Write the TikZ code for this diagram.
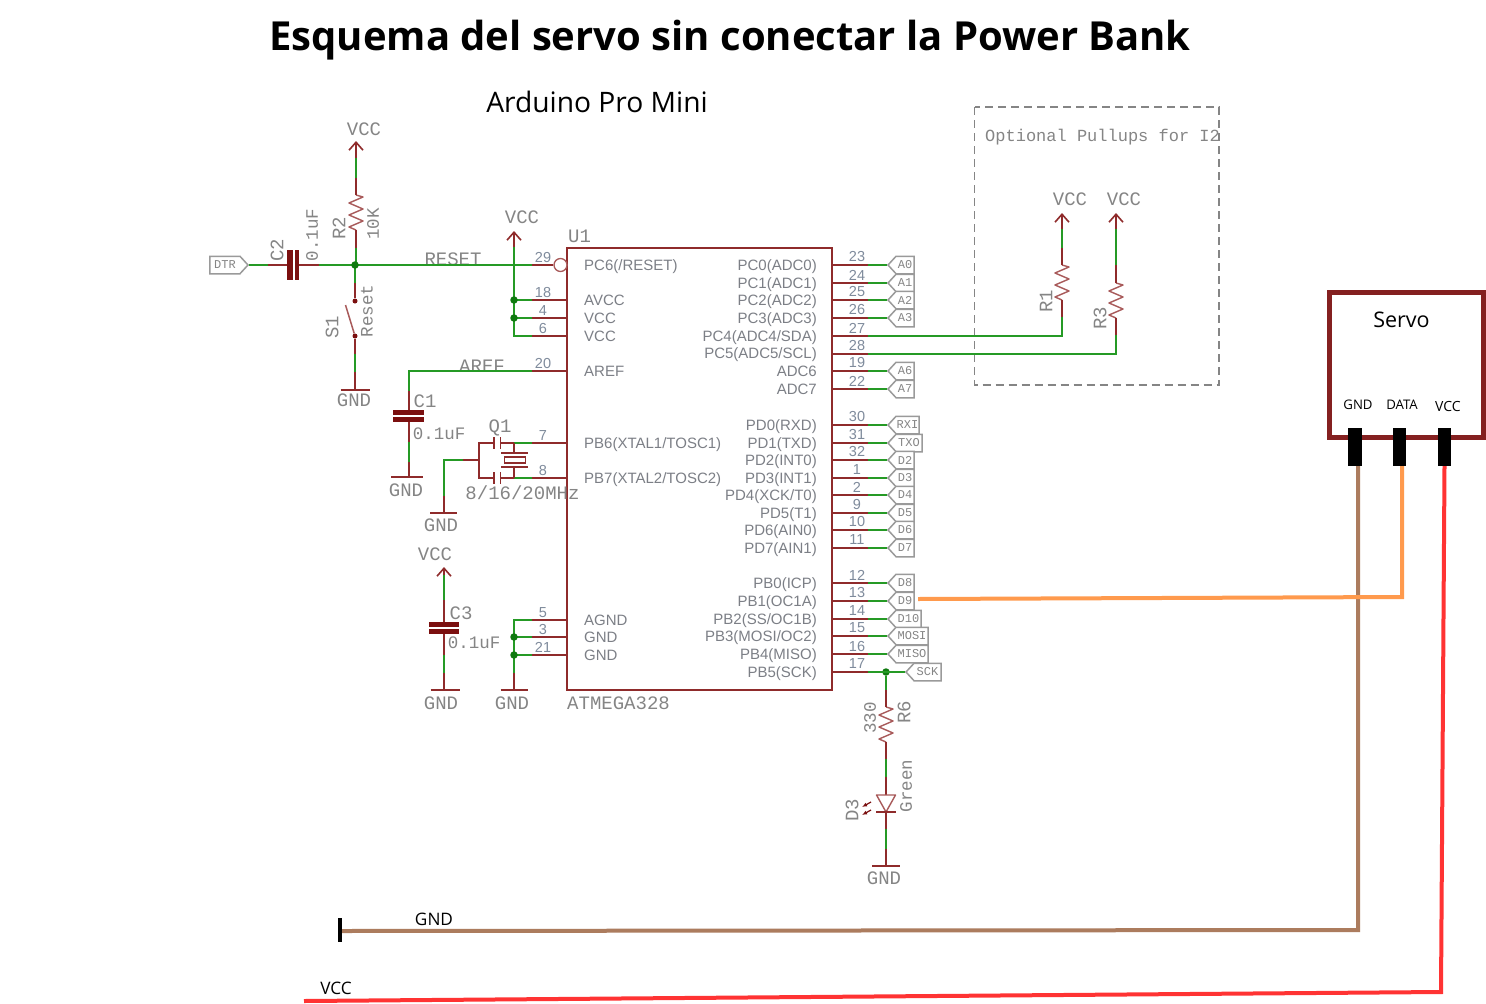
\documentclass[tikz,border=0pt]{standalone}
\usepackage{fontspec}
\usetikzlibrary{arrows.meta,shapes.symbols}
\setmainfont{Open Sans}
\newfontfamily\schemfont{Liberation Mono}
\newfontfamily\pinfont{Liberation Sans}
\definecolor{rd}{HTML}{8F2B2B}
\definecolor{gr}{HTML}{259A25}
\definecolor{junc}{HTML}{0F7A0F}
\definecolor{lab}{HTML}{858585}
\definecolor{pinlab}{HTML}{7C7F86}
\definecolor{pinnum}{HTML}{7F8B9C}
\definecolor{tagc}{HTML}{9A9A9A}
\definecolor{resc}{HTML}{A85A5A}
\definecolor{capc}{HTML}{7B0F0F}
\definecolor{servoc}{HTML}{842020}
\definecolor{brownw}{HTML}{AC7C5E}
\definecolor{orangew}{HTML}{FF9A4D}
\definecolor{redw}{HTML}{FF3333}
\tikzset{
  x=1pt,y=-1pt,
  rw/.style={rd,line width=2pt,line cap=butt},
  gw/.style={gr,line width=2pt,line cap=butt},
  resline/.style={resc,line width=1.4pt,line join=round},
  sl/.style={lab,inner sep=0pt,font=\schemfont\fontsize{19}{19}\selectfont},
  sm/.style={lab,inner sep=0pt,font=\schemfont\fontsize{17.5}{18}\selectfont},
  pinname/.style={pinlab,inner sep=0pt,font=\pinfont\fontsize{15}{15}\selectfont},
  pinno/.style={pinnum,inner sep=0pt,font=\pinfont\fontsize{14.5}{14}\selectfont},
  tagbox/.style={draw=tagc,line width=1.5pt,fill=white,shape=signal,signal to=west,signal from=nowhere,signal pointer angle=95,
    minimum height=17.5pt,inner sep=0pt,text=lab,anchor=west,font=\schemfont\fontsize{12}{12}\selectfont},
  dot/.style={circle,fill=junc,inner sep=0pt,minimum size=7.5pt},
  gndbar/.style={rd,line width=2pt},
  capplate/.style={fill=capc,draw=none,inner sep=0pt},
  barb/.style={-{Straight Barb[width=14pt,length=8pt,line width=1.6pt]}},
  servowire/.style={line width=4pt,line join=miter},
  plug/.style={fill=black,draw=none,inner sep=0pt,minimum width=13.5pt,minimum height=38pt},
}
\newcommand{\resistorat}[2]{%
  \path (#2) coordinate (#1t) ++(0,35) coordinate (#1b);
  \draw[resline] (#1t) -- ++(7,2) -- ++(-14,6) -- ++(14,6) -- ++(-14,6) -- ++(14,6) -- ++(-14,6) -- (#1b);
}
\begin{document}
\begin{tikzpicture}
\path[use as bounding box] (0,0) rectangle (1486,1004);
\fill[white] (0,0) rectangle (1486,1004);

% titles
\node[inner sep=0pt,font=\bfseries\fontsize{40}{40}\selectfont] (title) at (730,40) {Esquema del servo sin conectar la Power Bank};
\node[inner sep=0pt,font=\fontsize{28.2}{28}\selectfont] (ardu) at (597,102) {Arduino Pro Mini};

% microcontroller
\node[draw=rd,line width=2pt,minimum width=265pt,minimum height=442pt,inner sep=0pt] (U1) at (699.5,469) {};
\node[sl,anchor=west] (U1lab) at (568,236) {U1};
\node[sl,anchor=west] (U1val) at (567,703) {ATMEGA328};

% text labels that lie under the wires
\node[sl] (resetlab) at (453,259) {RESET};
\node[sl] (areflab) at (482,366) {AREF};

% right-hand pins with tags
\foreach \y/\n/\lab/\tg/\w in {
  265/23/{PC0(ADC0)}/A0/26, 283/24/{PC1(ADC1)}/A1/26, 300/25/{PC2(ADC2)}/A2/26, 318/26/{PC3(ADC3)}/A3/26,
  371/19/{ADC6}/A6/26, 389/22/{ADC7}/A7/26,
  425/30/{PD0(RXD)}/RXI/31, 443/31/{PD1(TXD)}/TXO/34, 460/32/{PD2(INT0)}/D2/26, 478/1/{PD3(INT1)}/D3/26,
  495/2/{PD4(XCK/T0)}/D4/26, 513/9/{PD5(T1)}/D5/26, 530/10/{PD6(AIN0)}/D6/26, 548/11/{PD7(AIN1)}/D7/26,
  583/12/{PB0(ICP)}/D8/26, 601/13/{PB1(OC1A)}/D9/26, 619/14/{PB2(SS/OC1B)}/D10/33, 636/15/{PB3(MOSI/OC2)}/MOSI/40,
  654/16/{PB4(MISO)}/MISO/40} {
  \node[pinname,anchor=base east] (nm\n) at (817,\y+5) {\lab};
  \node[pinno] (no\n) at (857,\y-8) {\n};
  \coordinate (pin\n) at (832,\y);
  \node[tagbox,minimum width=\w pt] (tag\n) at (887,\y) {\tg};
  \draw[rw] (pin\n) -- ++(36,0);
  \draw[gw] (pin\n) ++(36,0) -- (tag\n.west);
}
% right pins that go on elsewhere
\foreach \y/\n/\lab/\ly in {336/27/{PC4(ADC4/SDA)}/341,354/28/{PC5(ADC5/SCL)}/358,672/17/{PB5(SCK)}/677} {
  \node[pinname,anchor=base east] (nm\n) at (817,\ly) {\lab};
  \node[pinno] (no\n) at (857,\y-8) {\n};
  \coordinate (pin\n) at (832,\y);
  \draw[rw] (pin\n) -- ++(36,0);
}

% left-hand pins
\foreach \y/\n/\lab in {265/29/{PC6(/RESET)},300/18/{AVCC},318/4/{VCC},336/6/{VCC},371/20/{AREF},
  443/7/{PB6(XTAL1/TOSC1)},478/8/{PB7(XTAL2/TOSC2)},620/5/{AGND},637/3/{GND},655/21/{GND}} {
  \node[pinname,anchor=base west] (nm\n) at (584,\y+5) {\lab};
  \node[pinno] (no\n) at (543,\y-7.5) {\n};
  \coordinate (pin\n) at (567,\y);
}
\foreach \n in {18,4,6,20,7,8,5,3,21} { \draw[rw] (pin\n) -- ++(-35,0); }

% pin 29 with inverted input
\node[circle,draw=resc,line width=1.3pt,fill=white,minimum size=13pt,inner sep=0pt] (inv) at (560.5,265) {};
\draw[rw] (inv.west) -- (532,265);

% ---- DTR, C2, reset net
\node[draw=tagc,line width=1.5pt,shape=signal,signal to=east,signal from=nowhere,signal pointer angle=95,minimum height=17.5pt,minimum width=38pt,inner sep=0pt,text=lab,anchor=east,font=\schemfont\fontsize{12}{12}\selectfont] (DTR) at (249,265) {DTR};
\node[capplate,minimum width=6pt,minimum height=30pt] (C2a) at (290,265) {};
\node[capplate,minimum width=4.5pt,minimum height=30pt] (C2b) at (297,265) {};
\coordinate (RN) at (355,265);
\draw[gw] (DTR.east) -- (268,265);
\draw[rw] (268,265) -- (C2a.west);
\draw[rw] (C2b.east) -- (319,265);
\draw[gw] (319,265) -- (RN);
\draw[gw] (RN) -- (532,265);
\node[sl,rotate=90] (C2lab) at (277,250) {C2};
\node[sm,rotate=90] (C2val) at (312,235) {0.1uF};

% R2 and VCC
\node[sl] (vcc1) at (364,129) {VCC};
\coordinate (vcc1tip) at (356,141);
\resistorat{R2}{356,195}
\draw[rw,barb] (R2t) ++(0,-37) -- (vcc1tip);
\draw[gw] (R2t) ++(0,-37) -- ++(0,20);
\draw[rw] (R2t) -- ++(0,-17);
\draw[rw] (R2b) -- ++(0,18);
\draw[gw] (R2b) ++(0,18) -- (356,265);
\node[sl,rotate=90] (R2lab) at (339,228) {R2};
\node[sm,rotate=90] (R2val) at (373,224) {10K};

% S1 Reset
\node[circle,fill=capc,inner sep=0pt,minimum size=5pt] (S1a) at (355,301) {};
\node[circle,fill=capc,inner sep=0pt,minimum size=5pt] (S1b) at (355,336) {};
\coordinate (S1arm) at (345.5,305);
\draw[rw] (S1a) -- ++(0,-18);
\draw[gw] (S1a) ++(0,-18) -- (355,265);
\draw[resline,line width=1.5pt] (S1b) -- (S1arm);
\draw[rw] (S1b) -- ++(0,18);
\draw[gw] (S1b) ++(0,18) -- ++(0,18);
\draw[rw] (S1b) ++(0,36) -- ++(0,18) coordinate (gnd1);
\draw[gndbar] (gnd1) ++(-14.5,0) -- ++(29,0);
\node[sl] at (354,400.5) (gnd1lab) {GND};
\node[sl,rotate=90] (S1lab) at (332,327) {S1};
\node[sl,rotate=90,font=\schemfont\fontsize{17.5}{18}\selectfont] (S1val) at (367,311) {Reset};

% VCC bus
\node[sl] (vcc2) at (522,217) {VCC};
\coordinate (vcc2tip) at (514,231);
\draw[rw,barb] (514,247) -- (vcc2tip);
\draw[gw] (514,247) -- (514,336) -- (532,336);
\draw[gw] (514,300) -- (532,300);
\draw[gw] (514,318) -- (532,318);
\node[dot] (j1) at (514,300) {};
\node[dot] (j2) at (514,318) {};
\node[dot] (j0) at (RN) {};

% AREF, C1
\node[capplate,minimum width=31pt,minimum height=5.5pt] (C1a) at (408.5,412.5) {};
\node[capplate,minimum width=31pt,minimum height=5.5pt] (C1b) at (408.5,419.5) {};
\draw[gw] (532,371) -- (409,371) -- (409,391);
\draw[rw] (409,391) -- (C1a.north -| 409,0);
\draw[rw] (409,422) -- ++(0,20);
\draw[gw] (409,442) -- ++(0,20);
\draw[rw] (409,462) -- ++(0,15) coordinate (gnd2);
\draw[gndbar] (gnd2) ++(-18,0) -- ++(32,0);
\node[sl] (gnd2lab) at (406,490.5) {GND};
\node[sl] (C1lab) at (425,401) {C1};
\node[sm] (C1val) at (439,434) {0.1uF};

% crystal Q1
\node[sl] (Q1lab) at (500,428) {Q1};
\node[sl] (Q1val) at (522.5,493) {8/16/20MHz};
\coordinate (q7) at (514,443);
\coordinate (q8) at (514,478);
\draw[gw] (pin7) ++(-35,0) -- (q7);
\draw[gw] (pin8) ++(-35,0) -- (q8);
\draw[rw] (q7) -- (500.5,443);
\draw[rw] (q8) -- (500.5,478);
\draw[rd,line width=1.8pt] (500.5,437) -- (500.5,449);
\draw[rd,line width=1.8pt] (494,437) -- (494,449);
\draw[rd,line width=1.8pt] (500.5,472) -- (500.5,484);
\draw[rd,line width=1.8pt] (494,472) -- (494,484);
\draw[rw] (494,443) -- (479,443) -- (479,478) -- (494,478);
\draw[rw] (q7) -- (514,453);
\draw[rw] (q8) -- (514,467);
\draw[rd,line width=1.6pt] (501,453) -- (528,453);
\draw[rd,line width=1.6pt] (501,467) -- (528,467);
\node[draw=rd,line width=1.6pt,fill=white,minimum width=21pt,minimum height=6pt,inner sep=0pt] (xtal) at (515,460) {};
\draw[rw] (479,460) -- (463,460);
\draw[gw] (463,460) -- (444,460) -- (444,496);
\draw[rw] (444,496) -- (444,513) coordinate (gnd3);
\draw[gndbar] (gnd3) ++(-14,0) -- ++(27,0);
\node[sl] (gnd3lab) at (441,525.5) {GND};

% C3
\node[sl] (vcc3) at (435,554) {VCC};
\coordinate (vcc3tip) at (444,567);
\node[capplate,minimum width=30pt,minimum height=5.5pt] (C3a) at (444,624.5) {};
\node[capplate,minimum width=30pt,minimum height=5.5pt] (C3b) at (444,631.5) {};
\draw[rw,barb] (444,575) -- (vcc3tip);
\draw[gw] (444,575) -- (444,600);
\draw[rw] (444,600) -- (C3a.north);
\draw[rw] (C3b.south) -- (444,655);
\draw[gw] (444,655) -- (444,673);
\draw[rw] (444,673) -- (444,690) coordinate (gnd4);
\draw[gndbar] (gnd4) ++(-13.5,0) -- ++(29,0);
\node[sl] (gnd4lab) at (441,703) {GND};
\node[sl] (C3lab) at (461,613) {C3};
\node[sm] (C3val) at (474,643) {0.1uF};

% GND pins
\draw[gw] (532,620) -- (514,620) -- (514,673);
\draw[gw] (532,637) -- (514,637);
\draw[gw] (532,655) -- (514,655);
\draw[rw] (514,673) -- (514,690) coordinate (gnd5);
\draw[gndbar] (gnd5) ++(-13.5,0) -- ++(27,0);
\node[dot] (j3) at (514,637) {};
\node[dot] (j4) at (514,655) {};
\node[sl] (gnd5lab) at (512,703) {GND};

% I2C pull-ups
\draw[lab,line width=1.5pt,dash pattern=on 8pt off 5pt] (974.5,107) rectangle (1219,385);
\node[sl,anchor=west,font=\schemfont\fontsize{17}{18}\selectfont] (opt) at (985,137) {Optional Pullups for I2};
\node[sl] (vcc4) at (1070,199) {VCC};
\node[sl] (vcc5) at (1124,199) {VCC};
\coordinate (vcc4tip) at (1062,213);
\coordinate (vcc5tip) at (1116,213);
\resistorat{R1}{1062,265}
\resistorat{R3}{1116,283}
\draw[rw,barb] (R1t) ++(0,-36) -- (vcc4tip);
\draw[gw] (R1t) ++(0,-36) -- ++(0,19);
\draw[rw] (R1t) -- ++(0,-17);
\draw[rw] (R1b) -- ++(0,17);
\draw[gw] (R1b) ++(0,17) -- (1062,336) -- ([xshift=36pt]pin27);
\draw[rw,barb] (R3t) ++(0,-54) -- (vcc5tip);
\draw[gw] (R3t) ++(0,-54) -- ++(0,36);
\draw[rw] (R3t) -- ++(0,-18);
\draw[rw] (R3b) -- ++(0,17);
\draw[gw] (R3b) ++(0,17) -- (1116,354) -- ([xshift=36pt]pin28);
\node[sl,rotate=90] (R1lab) at (1046,301) {R1};
\node[sl,rotate=90] (R3lab) at (1100,318) {R3};

% SCK, R6, LED
\node[tagbox,minimum width=35pt] (tag17) at (905,672) {SCK};
\node[dot] (j5) at (886,672) {};
\draw[gw] ([xshift=36pt]pin17) -- (tag17.west);
\resistorat{R6}{886,707}
\draw[gw] (j5) -- (886,690);
\draw[rw] (886,690) -- (R6t);
\draw[rw] (R6b) -- ++(0,17);
\draw[gw] (R6b) ++(0,17) -- ++(0,18);
\draw[rw] (R6b) ++(0,35) coordinate (ledt) -- ++(0,18) coordinate (ledi);
\draw[resline,line width=1.4pt] (ledi) ++(-9.5,0) -- ++(19,0) -- ++(-9.5,17) coordinate (leda) -- cycle;
\draw[rd,line width=1.8pt] (leda) ++(-10,0) -- ++(20,0);
\draw[rw] (leda) -- ++(0,17);
\draw[gw] (leda) ++(0,17) -- ++(0,20);
\draw[rw] (leda) ++(0,37) -- ++(0,17) coordinate (gnd6);
\draw[gndbar] (gnd6) ++(-14,0) -- ++(28,0);
\node[sl] (gnd6lab) at (884,878.5) {GND};
\node[sm,rotate=90] (R6val) at (870,718) {330};
\node[sl,rotate=90] (R6lab) at (904,712) {R6};
\node[sm,rotate=90] (D3val) at (906,786) {Green};
\node[sl,rotate=90] (D3lab) at (852,810) {D3};
\draw[capc,line width=1.2pt,-{Latex[length=5pt,width=4pt]}] (871,802) -- (862,807);
\draw[capc,line width=1.2pt,-{Latex[length=5pt,width=4pt]}] (871,810) -- (862,815);

% Servo
\node[draw=servoc,line width=5pt,minimum width=154.5pt,minimum height=145.5pt,inner sep=0pt] (servo) at (1406.25,364.75) {};
\node[inner sep=0pt,font=\fontsize{21.5}{21}\selectfont] (servolab) at (1401.5,319.5) {Servo};
\node[inner sep=0pt,font=\fontsize{13.2}{13}\selectfont] (sgnd) at (1358,405) {GND};
\node[inner sep=0pt,font=\fontsize{13.2}{13}\selectfont] (sdata) at (1402,405) {DATA};
\node[inner sep=0pt,font=\fontsize{14}{14}\selectfont] (svcc) at (1448,406) {VCC};
\node[plug] (plugG) at (1355,447) {};
\node[plug] (plugD) at (1399.5,447) {};
\node[plug] (plugV) at (1444.5,447) {};

% wires from the servo
\coordinate (gndend) at (340,931);
\coordinate (vccend) at (304,1001);
\draw[brownw,servowire] (plugG.south -| 1358,0) -- (1358,930) -- (gndend);
\draw[orangew,servowire] (plugD.south -| 1402,0) -- (1402,597) -- (918,599);
\draw[redw,servowire] (plugV.south) -- (1441,992) -- (vccend);
\draw[black,line width=4pt] (gndend) ++(0,-13) -- ++(0,24);
\node[inner sep=0pt,font=\fontsize{17.2}{17}\selectfont] (gndlab) at (434,919) {GND};
\node[inner sep=0pt,font=\fontsize{17.2}{17}\selectfont] (vcclab) at (336,988) {VCC};
\end{tikzpicture}
\end{document}
